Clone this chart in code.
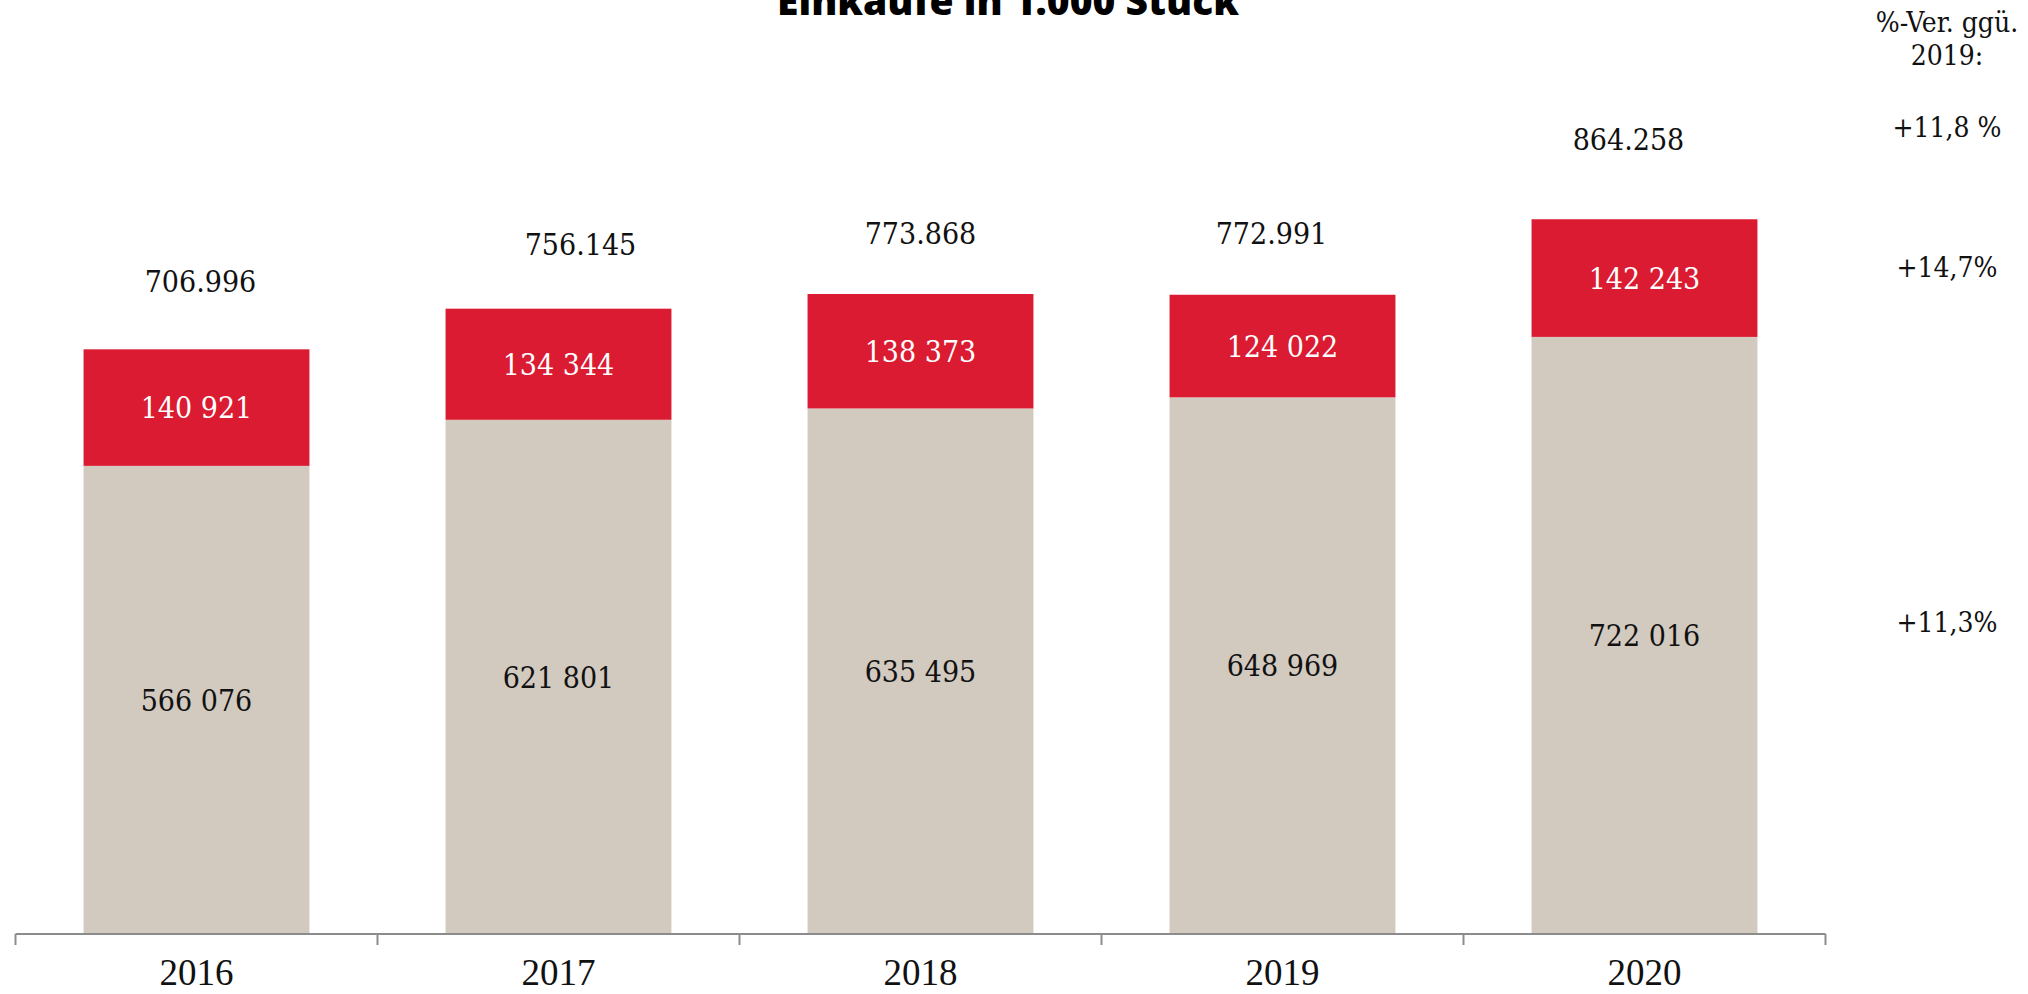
<!DOCTYPE html>
<html>
<head>
<meta charset="utf-8">
<script src="https://cdn.jsdelivr.net/npm/d3@7"></script>
<style>
  body { margin: 0; background: #fff; }
  .val { font-family: 'DejaVu Serif Condensed', 'DejaVu Serif', serif; font-stretch: condensed; font-size: 30px; }
  .year { font-family: 'Liberation Serif', serif; font-size: 37px; fill: #111; }
  .note { font-family: 'DejaVu Serif Condensed', 'DejaVu Serif', serif; font-stretch: condensed; font-size: 28px; fill: #111; }
  .title { font-family: 'Open Sans', sans-serif; font-weight: 800; font-size: 39px; }
</style>
</head>
<body>
<script>
// ! Data
const years = ['2016', '2017', '2018', '2019', '2020'];
const baseValues = [566076, 621801, 635495, 648969, 722016];
const topValues = [140921, 134344, 138373, 124022, 142243];
const totalLabels = ['706.996', '756.145', '773.868', '772.991', '864.258'];
const baseLabels = ['566 076', '621 801', '635 495', '648 969', '722 016'];
const topLabels = ['140 921', '134 344', '138 373', '124 022', '142 243'];
const noteHeader = ['%-Ver. ggü.', '2019:'];
const noteTotal = '+11,8 %';
const noteTop = '+14,7%';
const noteBase = '+11,3%';

// * layout
const width = 2028;
const height = 994;
const axisY = 934;
const colorBase = '#d2c9bf';
const colorTop = '#da1b31';

// per-label nudges for the total labels (they are hand placed in the original)
const totalShift = [[4, -68], [22, -64], [0, -61], [-11, -62], [-16, -80]];

const svg = d3
  .select('body')
  .append('svg')
  .attr('width', width)
  .attr('height', height);

const x = d3
  .scaleBand()
  .domain(years)
  .range([15.5, 1825.5])
  .paddingInner(0.376)
  .paddingOuter(0.188);

const y = d3
  .scaleLinear()
  .domain([0, 1129400])
  .range([axisY, 0]);

const rows = years.map((yr, i) => ({
  year: yr,
  base: baseValues[i],
  top: topValues[i],
  total: baseValues[i] + topValues[i],
  i,
}));

// ! bars
svg
  .append('g')
  .selectAll('rect')
  .data(rows)
  .enter()
  .append('rect')
  .attr('x', (d) => x(d.year))
  .attr('width', x.bandwidth())
  .attr('y', (d) => y(d.base))
  .attr('height', (d) => y(0) - y(d.base))
  .attr('fill', colorBase);

svg
  .append('g')
  .selectAll('rect')
  .data(rows)
  .enter()
  .append('rect')
  .attr('x', (d) => x(d.year))
  .attr('width', x.bandwidth())
  .attr('y', (d) => y(d.total))
  .attr('height', (d) => y(d.base) - y(d.total))
  .attr('fill', colorTop);

// * labels inside the segments
svg
  .append('g')
  .selectAll('text')
  .data(rows)
  .enter()
  .append('text')
  .attr('class', 'val')
  .attr('x', (d) => x(d.year) + x.bandwidth() / 2)
  .attr('y', (d) => (y(0) + y(d.base)) / 2)
  .attr('dy', '0.36em')
  .attr('text-anchor', 'middle')
  .attr('fill', '#111')
  .text((d) => baseLabels[d.i]);

svg
  .append('g')
  .selectAll('text')
  .data(rows)
  .enter()
  .append('text')
  .attr('class', 'val')
  .attr('x', (d) => x(d.year) + x.bandwidth() / 2)
  .attr('y', (d) => (y(d.base) + y(d.total)) / 2)
  .attr('dy', '0.36em')
  .attr('text-anchor', 'middle')
  .attr('fill', '#fff')
  .text((d) => topLabels[d.i]);

// * totals above the bars
svg
  .append('g')
  .selectAll('text')
  .data(rows)
  .enter()
  .append('text')
  .attr('class', 'val')
  .attr('x', (d) => x(d.year) + x.bandwidth() / 2 + totalShift[d.i][0])
  .attr('y', (d) => y(d.total) + totalShift[d.i][1])
  .attr('dy', '0.36em')
  .attr('text-anchor', 'middle')
  .attr('fill', '#111')
  .text((d) => totalLabels[d.i]);

// ! x axis with ticks between the bands
const axisG = svg.append('g');
axisG
  .append('line')
  .attr('x1', x.range()[0])
  .attr('x2', x.range()[1])
  .attr('y1', axisY)
  .attr('y2', axisY)
  .attr('stroke', '#8c8c8c')
  .attr('stroke-width', 2);
const tickXs = years.map((yr) => x(yr) - (x.step() * x.paddingInner()) / 2)
  .map((v, i) => (i === 0 ? x.range()[0] : v));
tickXs.push(x.range()[1]);
axisG
  .selectAll('.tick')
  .data(tickXs)
  .enter()
  .append('line')
  .attr('x1', (d) => d)
  .attr('x2', (d) => d)
  .attr('y1', axisY)
  .attr('y2', axisY + 11)
  .attr('stroke', '#8c8c8c')
  .attr('stroke-width', 2);
axisG
  .selectAll('text')
  .data(years)
  .enter()
  .append('text')
  .attr('class', 'year')
  .attr('x', (d) => x(d) + x.bandwidth() / 2)
  .attr('y', 985)
  .attr('text-anchor', 'middle')
  .text((d) => d);

// ! title (cut at the top edge)
svg
  .append('text')
  .attr('class', 'title')
  .attr('x', 1008)
  .attr('y', 15)
  .attr('text-anchor', 'middle')
  .text('Einkäufe in 1.000 Stück');

// ! change notes on the right
const last = rows[rows.length - 1];
const noteX = 1947;
svg
  .append('g')
  .selectAll('text')
  .data(noteHeader)
  .enter()
  .append('text')
  .attr('class', 'note')
  .attr('x', noteX)
  .attr('y', (d, i) => 22 + i * 33)
  .attr('dy', '0.36em')
  .attr('text-anchor', 'middle')
  .text((d) => d);

const notes = [
  { t: noteTotal, y: y(last.total) - 92 },
  { t: noteTop, y: (y(last.base) + y(last.total)) / 2 - 11 },
  { t: noteBase, y: (y(0) + y(last.base)) / 2 - 14 },
];
svg
  .append('g')
  .selectAll('text')
  .data(notes)
  .enter()
  .append('text')
  .attr('class', 'note')
  .attr('x', noteX)
  .attr('y', (d) => d.y)
  .attr('dy', '0.36em')
  .attr('text-anchor', 'middle')
  .text((d) => d.t);
</script>
</body>
</html>
